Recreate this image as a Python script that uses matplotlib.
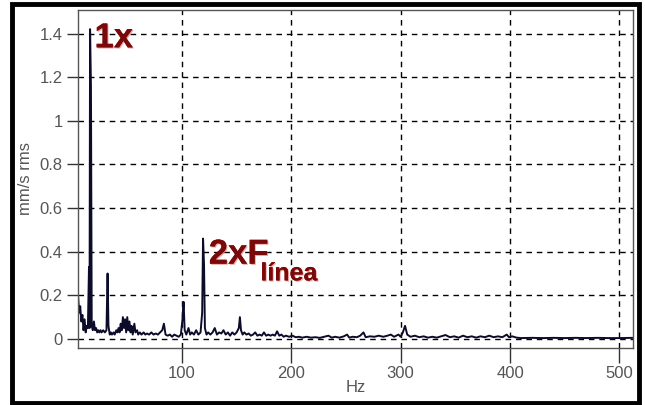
"""Vibration spectrum with 1x and 2xF_linea peaks."""

import matplotlib.pyplot as plt
import matplotlib.patheffects as pe
from matplotlib.patches import Rectangle
from matplotlib.ticker import FuncFormatter

plt.rcParams["font.family"] = ["Liberation Sans", "DejaVu Sans"]

# spectrum (Hz, mm/s rms)
freq = [
    5.0, 6.0, 7.0, 8.0, 9.0, 10.0, 11.0, 12.0, 13.0, 14.0,
    15.0, 15.5, 16.0, 16.8, 17.5, 18.5, 19.5, 20.5, 21.5, 22.5,
    23.5, 24.5, 25.5, 26.5, 28.0, 29.5, 31.0, 32.0, 32.8, 34.0,
    35.0, 36.0, 37.5, 38.5, 40.0, 41.0, 42.0, 43.0, 44.0, 45.0,
    46.0, 47.0, 48.0, 49.0, 50.0, 51.0, 52.0, 53.0, 54.0, 55.0,
    56.5, 57.5, 59.0, 60.0, 61.5, 63.0, 65.0, 66.5, 68.0, 70.0,
    72.0, 74.0, 76.0, 78.0, 80.0, 82.0, 83.5, 85.0, 87.0, 89.0,
    91.0, 93.0, 95.0, 97.0, 99.0, 100.5, 101.5, 102.5, 104.0, 106.0,
    107.5, 109.0, 111.0, 113.0, 115.0, 117.0, 118.5, 119.3, 120.2, 121.0,
    122.5, 124.0, 126.0, 128.0, 130.0, 132.0, 134.0, 136.0, 138.0, 140.0,
    142.0, 144.0, 146.0, 148.0, 150.0, 152.0, 153.0, 154.0, 155.5, 157.0,
    159.0, 161.0, 163.0, 165.0, 167.0, 169.0, 171.0, 173.0, 175.0, 177.0,
    179.0, 181.0, 183.0, 185.0, 187.0, 189.0, 191.0, 193.0, 195.0, 198.0,
    201.0, 204.0, 207.0, 210.0, 214.0, 218.0, 222.0, 226.0, 230.0, 234.0,
    237.0, 240.0, 244.0, 248.0, 251.0, 253.0, 256.0, 260.0, 263.0, 266.0,
    268.0, 272.0, 276.0, 280.0, 284.0, 288.0, 291.0, 294.0, 298.0, 300.0,
    302.0, 304.0, 306.0, 309.0, 313.0, 317.0, 321.0, 325.0, 329.0, 333.0,
    337.0, 341.0, 345.0, 349.0, 353.0, 357.0, 361.0, 365.0, 369.0, 373.0,
    377.0, 381.0, 385.0, 389.0, 393.0, 397.0, 399.0, 402.0, 406.0, 410.0,
    420.0, 430.0, 440.0, 450.0, 460.0, 470.0, 480.0, 490.0, 500.0, 510.0,
    512.0,
]
amp = [
    0.20, 0.12, 0.15, 0.08, 0.11, 0.04, 0.09, 0.03, 0.06, 0.05,
    0.33, 0.05, 1.42, 1.16, 0.06, 0.04, 0.08, 0.04, 0.05, 0.03,
    0.04, 0.03, 0.04, 0.03, 0.04, 0.03, 0.04, 0.30, 0.06, 0.02,
    0.03, 0.02, 0.03, 0.02, 0.04, 0.03, 0.05, 0.03, 0.07, 0.04,
    0.10, 0.05, 0.09, 0.03, 0.10, 0.04, 0.08, 0.03, 0.06, 0.02,
    0.07, 0.03, 0.04, 0.02, 0.03, 0.02, 0.03, 0.02, 0.025, 0.02,
    0.03, 0.02, 0.025, 0.02, 0.03, 0.04, 0.07, 0.02, 0.015, 0.02,
    0.01, 0.02, 0.015, 0.01, 0.02, 0.09, 0.17, 0.04, 0.02, 0.05,
    0.02, 0.03, 0.02, 0.04, 0.02, 0.03, 0.12, 0.46, 0.34, 0.05,
    0.02, 0.03, 0.02, 0.03, 0.05, 0.02, 0.03, 0.025, 0.04, 0.02,
    0.03, 0.015, 0.03, 0.02, 0.03, 0.05, 0.10, 0.04, 0.02, 0.03,
    0.02, 0.025, 0.015, 0.02, 0.03, 0.015, 0.02, 0.015, 0.03, 0.015,
    0.02, 0.015, 0.02, 0.015, 0.035, 0.015, 0.02, 0.01, 0.015, 0.01,
    0.015, 0.008, 0.01, 0.006, 0.01, 0.006, 0.008, 0.005, 0.01, 0.015,
    0.006, 0.01, 0.006, 0.012, 0.02, 0.006, 0.01, 0.008, 0.015, 0.03,
    0.008, 0.012, 0.01, 0.015, 0.01, 0.015, 0.02, 0.01, 0.02, 0.01,
    0.03, 0.06, 0.02, 0.01, 0.015, 0.008, 0.012, 0.006, 0.01, 0.006,
    0.012, 0.018, 0.008, 0.012, 0.006, 0.015, 0.008, 0.012, 0.006, 0.012,
    0.008, 0.015, 0.008, 0.012, 0.008, 0.02, 0.008, 0.012, 0.006, 0.004,
    0.005, 0.004, 0.005, 0.004, 0.005, 0.004, 0.005, 0.004, 0.004, 0.005,
    0.005,
]

x_ticks = [100, 200, 300, 400, 500]
y_ticks = [0, 0.2, 0.4, 0.6, 0.8, 1.0, 1.2, 1.4]

label_color = "#555555"
note_color = "#7a0a0a"

fig = plt.figure(figsize=(6.45, 4.05), dpi=100)
ax = fig.add_axes([0.121, 0.141, 0.861, 0.835])

ax.plot(freq, amp, color="#0c0c2a", linewidth=1.4)

ax.set_xlim(5, 512.8)
ax.set_ylim(-0.041, 1.509)
ax.set_xticks(x_ticks)
ax.set_yticks(y_ticks)
ax.yaxis.set_major_formatter(FuncFormatter(lambda v, _: f"{v:g}"))

ax.grid(True, color="black", linestyle=(0, (4, 3.5)), linewidth=1.0)
ax.set_axisbelow(True)
for s in ax.spines.values():
    s.set_color("#555555")
    s.set_linewidth(1.0)
ax.tick_params(axis="x", length=11, width=1, color="#333333",
               labelcolor=label_color, labelsize=12, pad=2)
ax.tick_params(axis="y", length=8, width=1, color="#333333",
               labelcolor=label_color, labelsize=12, pad=3)

ax.set_xlabel("Hz", color=label_color, fontsize=12, labelpad=-1)
ax.set_ylabel("mm/s rms", color=label_color, fontsize=12, labelpad=5)

shadow = [pe.withSimplePatchShadow(offset=(0.8, -0.8), shadow_rgbFace="#e04040",
                                    alpha=0.5), pe.Normal()]
ax.text(20.0, 1.38, "1x", color=note_color, fontsize=25, fontweight="bold",
        ha="left", va="center", path_effects=shadow)
t2 = ax.text(124.5, 0.345, "2xF", color=note_color, fontsize=25,
             fontweight="bold", ha="left", va="baseline", path_effects=shadow)
ax.annotate("línea", xy=(1, 0), xycoords=t2, xytext=(-6, -7),
            textcoords="offset points", color=note_color, fontsize=18,
            fontweight="bold", ha="left", va="baseline", path_effects=shadow)

# outer black frame
fig.patches.append(Rectangle((0.019, 0.006), 0.972, 0.984, transform=fig.transFigure,
                             fill=False, edgecolor="black", linewidth=3.5))

fig.savefig("out.png", dpi=100)
